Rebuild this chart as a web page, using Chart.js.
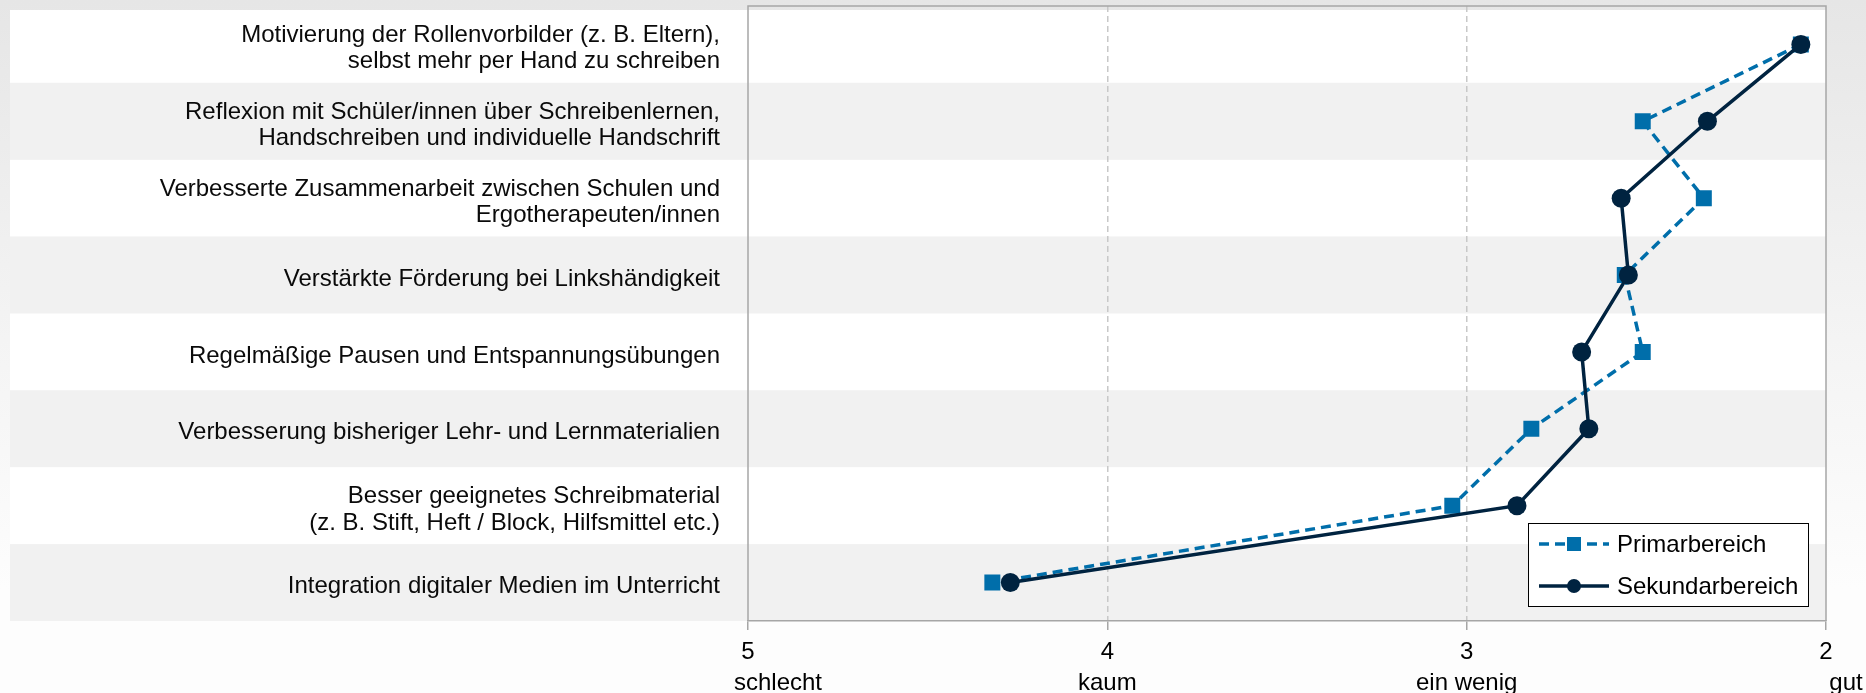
<!DOCTYPE html>
<html>
<head>
<meta charset="utf-8">
<script src="https://cdn.jsdelivr.net/npm/chart.js@4.4.1/dist/chart.umd.min.js"></script>
<style>
  html, body { margin: 0; padding: 0; }
  body {
    width: 1866px; height: 693px; overflow: hidden;
    background: linear-gradient(to bottom, #e6e6e6 0%, #f3f3f3 45%, #fdfdfd 85%, #fdfdfd 100%);
  }
  #wrap { position: relative; width: 1866px; height: 693px; }
</style>
</head>
<body>
<div id="wrap"><canvas id="myChart" width="1866" height="693"></canvas></div>
<script>
// categories (top to bottom)
const categories = [
    ["Motivierung der Rollenvorbilder (z. B. Eltern),", "selbst mehr per Hand zu schreiben"],
    ["Reflexion mit Schüler/innen über Schreibenlernen,", "Handschreiben und individuelle Handschrift"],
    ["Verbesserte Zusammenarbeit zwischen Schulen und", "Ergotherapeuten/innen"],
    "Verstärkte Förderung bei Linkshändigkeit",
    "Regelmäßige Pausen und Entspannungsübungen",
    "Verbesserung bisheriger Lehr- und Lernmaterialien",
    ["Besser geeignetes Schreibmaterial", "(z. B. Stift, Heft / Block, Hilfsmittel etc.)"],
    "Integration digitaler Medien im Unterricht"
];
const primarbereich = [2.07, 2.51, 2.34, 2.56, 2.51, 2.82, 3.04, 4.32];
const sekundarbereich = [2.07, 2.33, 2.57, 2.55, 2.68, 2.66, 2.86, 4.27];
const tickValues = [5, 4, 3, 2];
// leading spaces nudge the outer words to the right, as in the original
const tickWords = ["         schlecht", "kaum", "ein wenig", "      gut"];

const FONT = "'Liberation Sans', Arial, sans-serif";

// alternating row bands + plot frame
const bandsPlugin = {
    id: 'bands',
    beforeDraw(chart) {
        const ctx = chart.ctx;
        const area = chart.chartArea;
        const y = chart.scales.y;
        const step = y.getPixelForValue(1) - y.getPixelForValue(0);
        ctx.save();
        categories.forEach(function (c, i) {
            const cy = y.getPixelForValue(i);
            const top = i === 0 ? cy - step / 2 + 4 : cy - step / 2;
            ctx.fillStyle = i % 2 === 0 ? '#ffffff' : '#f1f1f1';
            ctx.fillRect(10, top, area.right - 10, cy + step / 2 - top);
        });
        ctx.restore();
    },
    beforeDatasetsDraw(chart) {
        const ctx = chart.ctx;
        const area = chart.chartArea;
        ctx.save();
        ctx.strokeStyle = '#a6a6a6';
        ctx.lineWidth = 1.5;
        ctx.beginPath();
        ctx.moveTo(area.left, area.bottom);
        ctx.lineTo(area.left, area.top);
        ctx.lineTo(area.right, area.top);
        ctx.lineTo(area.right, area.bottom);
        ctx.stroke();
        ctx.restore();
    }
};

// legend box inside the plot, lower right
const legendPlugin = {
    id: 'boxLegend',
    afterDraw(chart) {
        const ctx = chart.ctx;
        const x0 = 1528, y0 = 523, w = 280, h = 83;
        ctx.save();
        ctx.fillStyle = '#ffffff';
        ctx.fillRect(x0, y0, w, h);
        ctx.strokeStyle = '#000000';
        ctx.lineWidth = 1;
        ctx.strokeRect(x0 + 0.5, y0 + 0.5, w, h);
        chart.data.datasets.forEach(function (ds, i) {
            const cy = y0 + 21 + i * 42;
            ctx.strokeStyle = ds.borderColor;
            ctx.lineWidth = ds.borderWidth;
            ctx.setLineDash(ds.borderDash || []);
            ctx.beginPath();
            ctx.moveTo(x0 + 11, cy);
            ctx.lineTo(x0 + 81, cy);
            ctx.stroke();
            ctx.setLineDash([]);
            ctx.fillStyle = ds.pointBackgroundColor;
            if (ds.pointStyle === 'rect') {
                ctx.fillRect(x0 + 46 - 7, cy - 7, 14, 14);
            } else {
                ctx.beginPath();
                ctx.arc(x0 + 46, cy, 7, 0, Math.PI * 2);
                ctx.fill();
            }
            ctx.fillStyle = '#000000';
            ctx.font = '24px ' + FONT;
            ctx.textBaseline = 'middle';
            ctx.fillText(ds.label, x0 + 89, cy + 1);
        });
        ctx.restore();
    }
};

const ctx = document.getElementById('myChart').getContext('2d');
const myChart = new Chart(ctx, {
    type: 'line',
    data: {
        labels: categories,
        datasets: [
            {
                label: 'Primarbereich',
                data: primarbereich,
                order: 1,
                borderColor: '#006eaa',
                backgroundColor: '#006eaa',
                pointBackgroundColor: '#006eaa',
                pointBorderColor: '#006eaa',
                borderWidth: 3.5,
                borderDash: [10, 6],
                pointStyle: 'rect',
                pointRadius: 11.3,
                pointBorderWidth: 0,
                tension: 0
            },
            {
                label: 'Sekundarbereich',
                data: sekundarbereich,
                order: 0,
                borderColor: '#002340',
                backgroundColor: '#002340',
                pointBackgroundColor: '#002340',
                pointBorderColor: '#002340',
                borderWidth: 3.5,
                pointStyle: 'circle',
                pointRadius: 9.5,
                pointBorderWidth: 0,
                tension: 0
            }
        ]
    },
    options: {
        responsive: false,
        animation: false,
        indexAxis: 'y',
        layout: { autoPadding: false, padding: { top: 6, right: 40, left: 0, bottom: 0 } },
        plugins: {
            legend: { display: false },
            tooltip: { enabled: false }
        },
        scales: {
            x: {
                type: 'linear',
                reverse: true,
                min: 2,
                max: 5,
                afterBuildTicks: function (scale) {
                    scale.ticks = tickValues.map(function (v) { return { value: v }; });
                },
                afterFit: function (scale) {
                    scale.height = 72;
                    scale.paddingLeft = 0;
                    scale.paddingRight = 0;
                },
                ticks: {
                    color: '#000000',
                    font: { family: FONT, size: 24, lineHeight: 1.3 },
                    padding: 7,
                    maxRotation: 0,
                    autoSkip: false,
                    callback: function (value) {
                        const i = tickValues.indexOf(value);
                        return [String(value), tickWords[i]];
                    }
                },
                grid: {
                    color: function (c) {
                        const v = c.tick && c.tick.value;
                        return (v === 3 || v === 4) ? '#c8c8c8' : 'rgba(0,0,0,0)';
                    },
                    lineWidth: 1.5,
                    tickColor: '#a6a6a6',
                    tickLength: 9,
                    tickBorderDash: []
                },
                border: { display: true, color: '#a6a6a6', width: 1.5, dash: [6, 4] }
            },
            y: {
                type: 'category',
                offset: true,
                afterFit: function (scale) {
                    scale.width = 748;
                    scale.paddingTop = 0;
                    scale.paddingBottom = 0;
                },
                ticks: {
                    color: '#0a0a0a',
                    font: { family: FONT, size: 24, lineHeight: 1.1 },
                    padding: 28,
                    labelOffset: 4,
                    autoSkip: false
                },
                grid: { display: false, drawTicks: false },
                border: { display: false }
            }
        }
    },
    plugins: [bandsPlugin, legendPlugin]
});
</script>
</body>
</html>
